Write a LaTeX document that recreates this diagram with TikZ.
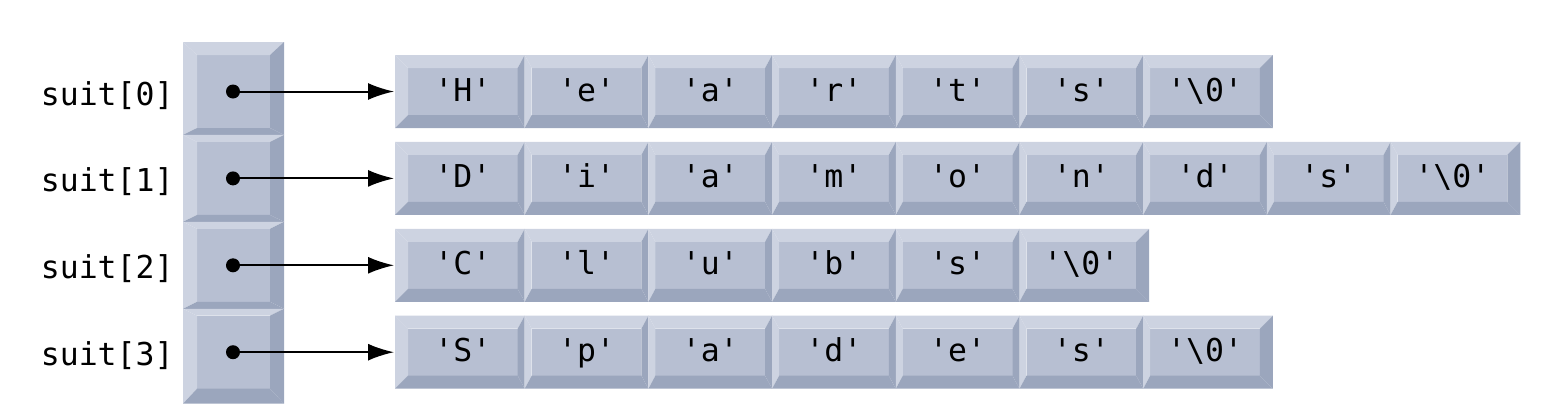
\documentclass[tikz,border=0pt]{standalone}
\usepackage{fontspec}
\setmonofont{DejaVu Sans Mono}
\usepackage{tikz}
\usetikzlibrary{arrows.meta}
\definecolor{keyface}{RGB}{183,191,210}
\definecolor{keylite}{RGB}{205,211,225}
\definecolor{keydark}{RGB}{155,166,189}

% x1 y1 x2 y2 (outer) and bevel left top right bottom
\newcommand\keybox[8]{%
  \fill[keyface] ({#1+#5},{#2+#6}) rectangle ({#3-#7},{#4-#8});
  \fill[keylite] (#1,#2) -- (#3,#2) -- ({#3-#7},{#2+#6}) -- ({#1+#5},{#2+#6}) -- cycle;
  \fill[keylite] (#1,#2) -- ({#1+#5},{#2+#6}) -- ({#1+#5},{#4-#8}) -- (#1,#4) -- cycle;
  \fill[keydark] (#3,#2) -- (#3,#4) -- ({#3-#7},{#4-#8}) -- ({#3-#7},{#2+#6}) -- cycle;
  \fill[keydark] (#1,#4) -- (#3,#4) -- ({#3-#7},{#4-#8}) -- ({#1+#5},{#4-#8}) -- cycle;
}

\begin{document}
\begin{tikzpicture}[x=0.5pt,y=-0.5pt,
  chr/.style={font=\ttfamily\fontsize{15.75}{18}\selectfont, inner sep=0pt, anchor=base},
  lbl/.style={font=\ttfamily\fontsize{15.75}{18}\selectfont, inner sep=0pt, anchor=base east},
  dot/.style={circle, fill=black, minimum size=7pt, inner sep=0pt},
  ptr/.style={line width=1pt, -{Latex[length=13pt,width=8.5pt]}}]
\useasboundingbox (0,0) rectangle (1565,418);
\foreach \r/\n/\word in {0/7/{H,e,a,r,t,s,\textbackslash0},
                         1/9/{D,i,a,m,o,n,d,s,\textbackslash0},
                         2/6/{C,l,u,b,s,\textbackslash0},
                         3/7/{S,p,a,d,e,s,\textbackslash0}}{
  \pgfmathsetmacro\cy{91.5+86.9*\r}
  \pgfmathsetmacro\bt{\r==0 ? 13 : 6.95}
  \pgfmathsetmacro\bb{\r==3 ? 15 : 6.95}
  \keybox{183}{\cy-36.5-\bt}{284}{\cy+36.5+\bb}{14}{\bt}{14}{\bb}
  \foreach \ch [count=\k from 0] in \word {
    \pgfmathsetmacro\fx{408+123.7*\k}
    \pgfmathsetmacro\bl{\k==0 ? 13 : 7}
    \pgfmathsetmacro\br{\k==\n-1 ? 13 : 7}
    \keybox{\fx-\bl}{\cy-36.5}{\fx+109.7+\br}{\cy+36.5}{\bl}{13}{\br}{13}
    \node[chr] (c\r-\k) at (\fx+54.85,\cy+9.5) {'\ch'};
  }
  \node[lbl] (s\r) at (174,\cy+13.5) {suit[\r]};
  \node[dot] (d\r) at (233,\cy) {};
  \coordinate (e\r) at (394,\cy);
  \draw[ptr] (d\r.center) -- (e\r);
}
\end{tikzpicture}
\end{document}
